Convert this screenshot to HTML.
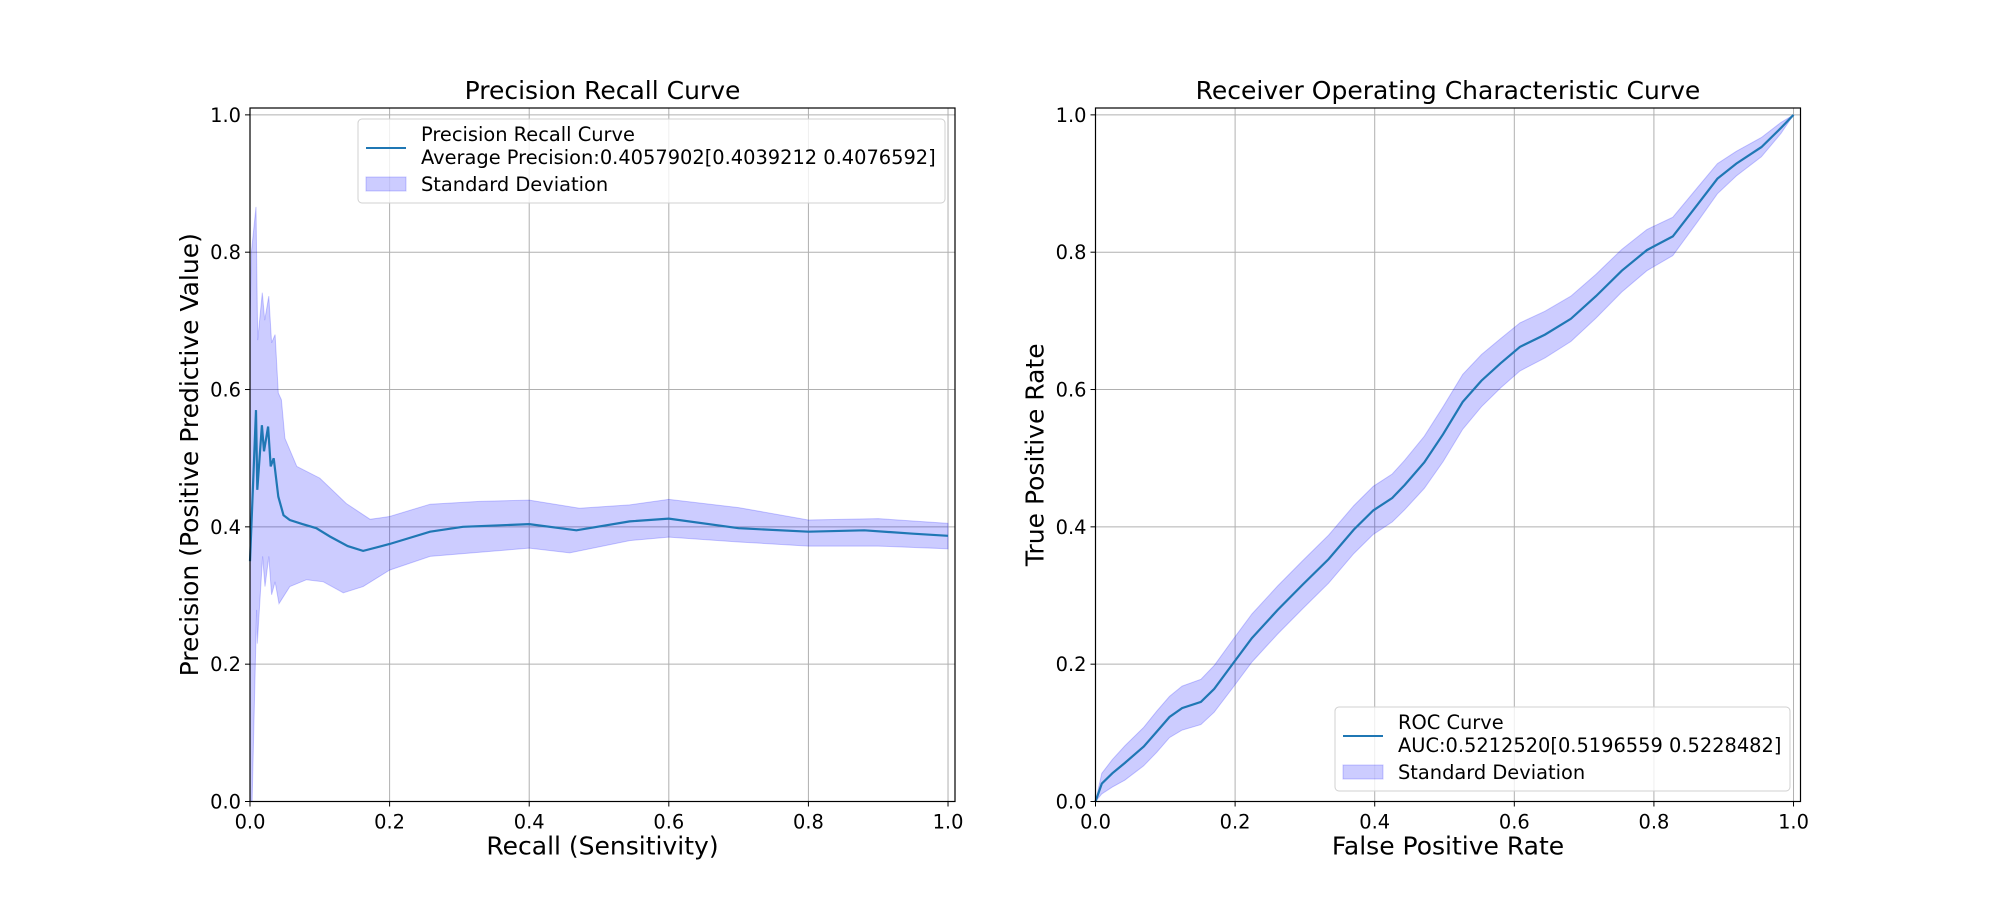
<!DOCTYPE html>
<html><head><meta charset="utf-8"><style>
body{margin:0;background:#fff;}
svg text{font-family:"DejaVu Sans","Liberation Sans",sans-serif;fill:#000;}
</style></head><body>
<svg id="fig" width="2000" height="900" viewBox="0 0 2000 900" xmlns="http://www.w3.org/2000/svg"></svg>
<script>
// ---- Precision-Recall data ----
const prMeanX = [0,0.0086,0.0105,0.017,0.020,0.026,0.0296,0.034,0.0405,0.048,0.057,0.075,0.095,0.1145,0.14,0.162,0.2,0.258,0.305,0.40,0.4676,0.544,0.6,0.7,0.8,0.88,0.95,1.0];
const prMeanY = [0.35,0.570,0.454,0.548,0.51,0.546,0.488,0.50,0.444,0.417,0.41,0.404,0.398,0.386,0.372,0.365,0.375,0.393,0.400,0.404,0.395,0.408,0.412,0.398,0.393,0.395,0.39,0.387];
const prUpX = [0,0.002,0.0086,0.011,0.0176,0.021,0.027,0.031,0.036,0.0405,0.045,0.050,0.067,0.100,0.138,0.172,0.2,0.258,0.329,0.40,0.472,0.544,0.6,0.7,0.8,0.9,1.0];
const prUpY = [0.70,0.80,0.866,0.672,0.741,0.701,0.736,0.668,0.680,0.595,0.585,0.529,0.488,0.471,0.434,0.411,0.415,0.433,0.437,0.439,0.427,0.432,0.440,0.428,0.410,0.412,0.405];
const prLoX = [0,0.003,0.0095,0.0105,0.018,0.0215,0.027,0.031,0.036,0.0415,0.057,0.081,0.105,0.1336,0.162,0.2,0.258,0.353,0.4,0.458,0.544,0.6,0.7,0.8,0.9,1.0];
const prLoY = [0,0.0,0.279,0.230,0.357,0.313,0.357,0.301,0.320,0.288,0.313,0.323,0.320,0.304,0.313,0.337,0.357,0.365,0.369,0.362,0.380,0.385,0.378,0.372,0.372,0.368];
// ---- ROC data ----
const rocX = [0,0.009,0.024,0.042,0.069,0.088,0.106,0.124,0.151,0.170,0.197,0.224,0.261,0.297,0.334,0.370,0.398,0.425,0.443,0.471,0.498,0.526,0.553,0.580,0.608,0.644,0.681,0.717,0.754,0.790,0.827,0.863,0.891,0.918,0.954,0.982,1.0];
const rocY = [0,0.026,0.041,0.056,0.080,0.102,0.123,0.136,0.145,0.164,0.201,0.238,0.279,0.316,0.353,0.396,0.424,0.442,0.461,0.494,0.535,0.582,0.613,0.638,0.662,0.680,0.703,0.736,0.773,0.803,0.823,0.870,0.907,0.929,0.953,0.981,1.0];
const rocStd = [0,0.015,0.02,0.025,0.028,0.03,0.03,0.032,0.033,0.034,0.035,0.035,0.035,0.035,0.035,0.035,0.035,0.035,0.036,0.038,0.040,0.040,0.038,0.036,0.035,0.034,0.033,0.032,0.031,0.030,0.028,0.025,0.022,0.018,0.014,0.008,0];
const ticks = [0,0.2,0.4,0.6,0.8,1.0];
const tickLabels = ["0.0","0.2","0.4","0.6","0.8","1.0"];

const NS="http://www.w3.org/2000/svg";
const svg=document.getElementById('fig');
function mk(tag,attrs,parent){const e=document.createElementNS(NS,tag);for(const k in attrs)e.setAttribute(k,attrs[k]);(parent||svg).appendChild(e);return e;}
const AX_T=108, AX_B=801.5, LIM=1.01;

function makeAxes(left,right,prefix){
  const sx=v=>left+(right-left)*v/LIM;
  const sy=v=>AX_B-(AX_B-AX_T)*v/LIM;
  const g=mk('g',{});
  
  
  return {sx,sy,g,left,right};
}
function drawFrame(ax,prefix){
  const {sx,sy,g,left,right}=ax;
  ticks.forEach((t,i)=>{
    const gx=mk('line',{x1:sx(t),x2:sx(t),y1:AX_T,y2:AX_B,stroke:'#b0b0b0','stroke-width':1},g);
    
    
    const gy=mk('line',{x1:left,x2:right,y1:sy(t),y2:sy(t),stroke:'#b0b0b0','stroke-width':1},g);
    
    
  });
}
function drawAxisDecor(ax,prefix,title,xlabel,ylabel){
  const {sx,sy,g,left,right}=ax;
  const fr=mk('rect',{x:left,y:AX_T,width:right-left,height:AX_B-AX_T,fill:'none',stroke:'#000','stroke-width':1.2},g);
  
  
  ticks.forEach((t,i)=>{
    mk('line',{x1:sx(t),x2:sx(t),y1:AX_B,y2:AX_B+5,stroke:'#000','stroke-width':1},g);
    const tx=mk('text',{x:sx(t),y:AX_B+27,'text-anchor':'middle','font-size':19.4},g);
    tx.textContent=tickLabels[i];
    
    
    mk('line',{x1:left-5,x2:left,y1:sy(t),y2:sy(t),stroke:'#000','stroke-width':1},g);
    const ty=mk('text',{x:left-9,y:sy(t)+7,'text-anchor':'end','font-size':19.4},g);
    ty.textContent=tickLabels[i];
    
    
  });
  const tt=mk('text',{x:(left+right)/2,y:AX_T-9,'text-anchor':'middle','font-size':25},g);
  tt.textContent=title;
  
  
  const xl=mk('text',{x:(left+right)/2,y:AX_B+53,'text-anchor':'middle','font-size':25},g);
  xl.textContent=xlabel;
  
  
  const cy=(AX_T+AX_B)/2;
  const yl=mk('text',{x:0,y:0,'text-anchor':'middle','font-size':25,transform:`translate(${left-52},${cy}) rotate(-90)`},g);
  yl.textContent=ylabel;
  
  
}
function bandPath(ax,ux,uy,lx,ly){
  let d='M'+ux.map((x,i)=>ax.sx(x).toFixed(1)+','+ax.sy(uy[i]).toFixed(1)).join('L');
  for(let i=lx.length-1;i>=0;i--) d+='L'+ax.sx(lx[i]).toFixed(1)+','+ax.sy(ly[i]).toFixed(1);
  return d+'Z';
}
function linePath(ax,xs,ys){return 'M'+xs.map((x,i)=>ax.sx(x).toFixed(1)+','+ax.sy(ys[i]).toFixed(1)).join('L');}
function legend(x,y,w,h,l1,l2,prefix){
  const g=mk('g',{});
  
  
  mk('rect',{x:x,y:y,width:w,height:h,rx:4,fill:'#fff','fill-opacity':0.8,stroke:'#d0d0d0','stroke-width':1},g);
  const ln=mk('line',{x1:x+8,x2:x+48,y1:y+29,y2:y+29,stroke:'#1f77b4','stroke-width':2},g);
  
  
  const t1=mk('text',{x:x+63,y:y+22,'font-size':19.4},g);t1.textContent=l1;
  
  
  const t2=mk('text',{x:x+63,y:y+45,'font-size':19.4},g);t2.textContent=l2;
  
  
  const sw=mk('rect',{x:x+8,y:y+58,width:40,height:14,fill:'#0000ff','fill-opacity':0.2,stroke:'#0000ff','stroke-opacity':0.2},g);
  
  
  const t3=mk('text',{x:x+63,y:y+72,'font-size':19.4},g);t3.textContent='Standard Deviation';
  
  
}

// Left PR axes
const pr=makeAxes(250,955,'pr');
drawFrame(pr,'pr');
const prBand=mk('path',{d:bandPath(pr,prUpX,prUpY,prLoX,prLoY),fill:'#0000ff','fill-opacity':0.2,stroke:'#0000ff','stroke-opacity':0.2,'stroke-width':1},pr.g);


const prLine=mk('path',{d:linePath(pr,prMeanX,prMeanY),fill:'none',stroke:'#1f77b4','stroke-width':2.2},pr.g);


drawAxisDecor(pr,'pr','Precision Recall Curve','Recall (Sensitivity)','Precision (Positive Predictive Value)');
legend(358,119,587,84,'Precision Recall Curve','Average Precision:0.4057902[0.4039212 0.4076592]','pr');

// Right ROC axes
const roc=makeAxes(1095.5,1800.5,'roc');
drawFrame(roc,'roc');
const rocUp=rocY.map((v,i)=>Math.min(1,v+rocStd[i]));
const rocLo=rocY.map((v,i)=>Math.max(0,v-rocStd[i]));
const rocBand=mk('path',{d:bandPath(roc,rocX,rocUp,rocX,rocLo),fill:'#0000ff','fill-opacity':0.2,stroke:'#0000ff','stroke-opacity':0.2,'stroke-width':1},roc.g);


const rocLine=mk('path',{d:linePath(roc,rocX,rocY),fill:'none',stroke:'#1f77b4','stroke-width':2.2},roc.g);


drawAxisDecor(roc,'roc','Receiver Operating Characteristic Curve','False Positive Rate','True Positive Rate');
legend(1335,707,455,84,'ROC Curve','AUC:0.5212520[0.5196559 0.5228482]','roc');
</script>
</body></html>
